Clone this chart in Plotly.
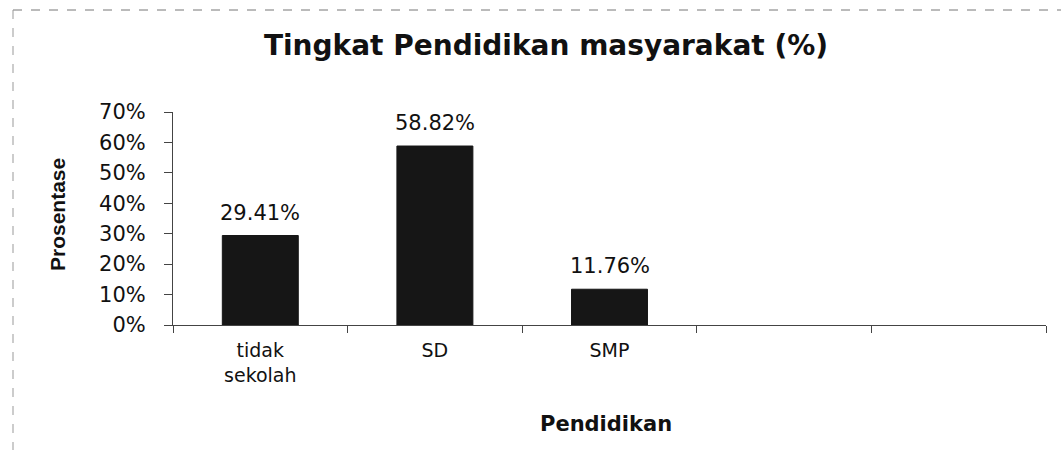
import plotly.graph_objects as go

# ---- data ----
categories = ["tidak<br>sekolah", "SD", "SMP", " ", "  "]
values = [29.41, 58.82, 11.76, None, None]
y_ticks = [0, 10, 20, 30, 40, 50, 60, 70]
y_tick_labels = [f"{t}%" for t in y_ticks]
title_text = "Tingkat Pendidikan masyarakat (%)"
x_title = "Pendidikan"
y_title = "Prosentase"

# ---- layout constants (pixels) ----
W, H = 1061, 458
L, R, T, B = 173, 15, 112, 133
PW, PH = W - L - R, H - T - B

def px_x(px):
    return (px - L) / PW

def px_y(py):
    return (H - B - py) / PH

FONT = "DejaVu Sans"
INK = "#111111"
AX = "#444444"

fig = go.Figure()
fig.add_trace(go.Bar(
    x=categories, y=values,
    marker=dict(color="#161616", line=dict(color="#161616", width=1)),
    width=0.435,
    hoverinfo="skip",
))

annotations = []
for c, v in zip(categories, values):
    if v is None:
        continue
    annotations.append(dict(
        x=c, y=v, xref="x", yref="y", text=f"{v:.2f}%",
        showarrow=False, yanchor="bottom", yshift=9,
        font=dict(family=FONT, size=21, color=INK),
    ))

annotations.append(dict(
    x=px_x(57), y=px_y(215), xref="paper", yref="paper", text=y_title,
    textangle=-90, showarrow=False, xanchor="center", yanchor="middle",
    font=dict(family="Liberation Sans", size=21, color=INK, weight="bold"),
))
annotations.append(dict(
    x=px_x(606), y=px_y(424), xref="paper", yref="paper", text=x_title,
    showarrow=False, xanchor="center", yanchor="middle",
    font=dict(family=FONT, size=21, color=INK, weight="bold"),
))

shapes = [
    dict(type="line", xref="paper", yref="paper",
         x0=px_x(13), x1=px_x(W), y0=px_y(10), y1=px_y(10),
         line=dict(color="#777777", width=1, dash="dash")),
    dict(type="line", xref="paper", yref="paper",
         x0=px_x(13), x1=px_x(13), y0=px_y(10), y1=px_y(450),
         line=dict(color="#999999", width=1, dash="dash")),
]

fig.update_layout(
    width=W, height=H,
    margin=dict(l=L, r=R, t=T, b=B, autoexpand=False),
    paper_bgcolor="white", plot_bgcolor="white",
    showlegend=False,
    title=dict(text=title_text, x=546 / W, xanchor="center",
               y=1 - 45 / H, yanchor="middle", yref="container",
               font=dict(family=FONT, size=28, color=INK, weight="bold")),
    annotations=annotations,
    shapes=shapes,
    xaxis=dict(
        type="category", categoryorder="array", categoryarray=categories,
        range=[-0.5, len(categories) - 0.5],
        showline=True, linecolor=AX, linewidth=1,
        ticks="outside", tickson="boundaries", ticklen=7, tickcolor=AX,
        showgrid=False, zeroline=False,
        tickfont=dict(family=FONT, size=19, color=INK),
        ticklabelstandoff=8,
    ),
    yaxis=dict(
        range=[0, 70], tickmode="array", tickvals=y_ticks, ticktext=y_tick_labels,
        showline=True, linecolor=AX, linewidth=1,
        ticks="outside", ticklen=8, tickcolor=AX,
        showgrid=False, zeroline=False,
        tickfont=dict(family=FONT, size=21, color=INK),
        ticklabelstandoff=14,
    ),
)

fig.write_html("out.html")
